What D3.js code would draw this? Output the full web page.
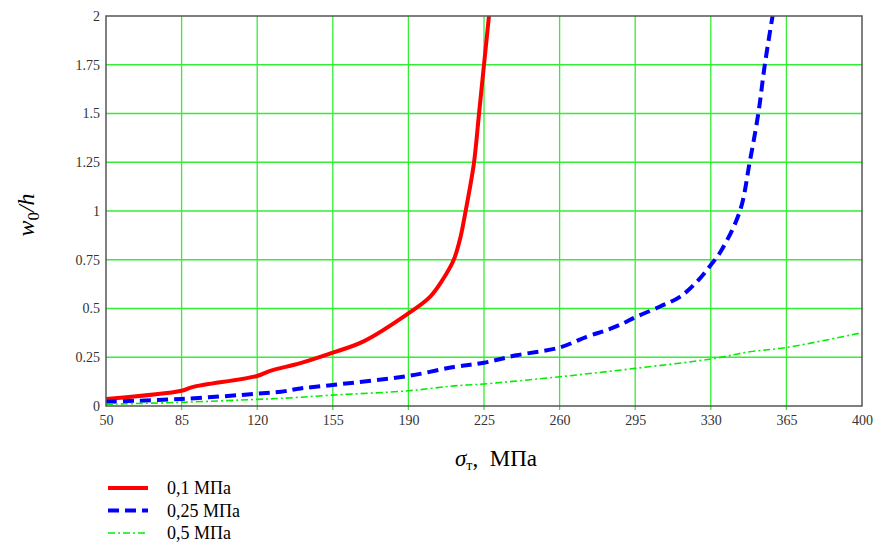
<!DOCTYPE html>
<html>
<head>
<meta charset="utf-8">
<script src="https://cdn.jsdelivr.net/npm/d3@7"></script>
<style>
  body { margin: 0; background: #fff; }
  svg text { font-family: "Times New Roman", "Liberation Serif", "DejaVu Serif", serif; }
</style>
</head>
<body>
<div id="chart"></div>
<script>
// series values (sigma_T, w0/h)
const redX   = [50, 85, 90, 120, 126, 140, 154, 169, 190, 200, 206, 211, 214, 216, 218, 220.4, 222.7, 225, 227.3];
const redY   = [0.036, 0.078, 0.097, 0.154, 0.18, 0.22, 0.27, 0.33, 0.475, 0.56, 0.65, 0.75, 0.86, 0.97, 1.09, 1.25, 1.5, 1.75, 2.0];
const blueX  = [50, 85, 120, 131, 140, 155, 190, 211, 225, 240, 260, 272.5, 282, 289.5, 295, 306.5, 315.7, 323.5, 330, 335, 343.5, 348, 352, 355, 358.6];
const blueY  = [0.022, 0.036, 0.063, 0.073, 0.09, 0.108, 0.154, 0.2, 0.222, 0.26, 0.30, 0.355, 0.39, 0.424, 0.455, 0.51, 0.56, 0.637, 0.723, 0.8, 1.0, 1.25, 1.5, 1.75, 2.0];
const greenX = [50, 85, 120, 131, 155, 190, 211, 225, 260, 295, 330, 348, 365, 400];
const greenY = [0.009, 0.019, 0.034, 0.039, 0.056, 0.078, 0.103, 0.113, 0.15, 0.193, 0.241, 0.278, 0.30, 0.376];

const xTicks = [50, 85, 120, 155, 190, 225, 260, 295, 330, 365, 400];
const yTicks = [0, 0.25, 0.5, 0.75, 1, 1.25, 1.5, 1.75, 2];
const legendLabels = ["0,1 МПа", "0,25 МПа", "0,5 МПа"];

const series = [
  { xs: redX, ys: redY, color: "#ff0000", width: 4, dash: null },
  { xs: blueX, ys: blueY, color: "#0000ff", width: 4, dash: "11,6" },
  { xs: greenX, ys: greenY, color: "#00ee00", width: 1.6, dash: "7,3,2,3" }
];

const FONT = '"Times New Roman", "Liberation Serif", "DejaVu Serif", serif';

// SVG CONVENTIONS
const W = 877, H = 545;
const margin = { top: 16, right: 15, bottom: 139, left: 106 };
const width = W - margin.left - margin.right,
    height = H - margin.top - margin.bottom;

const svg = d3.select("#chart").append("svg")
    .attr("width", W)
    .attr("height", H)
    .attr("font-family", FONT);

const g = svg.append("g")
    .attr("transform", "translate(" + margin.left + "," + margin.top + ")");

const x = d3.scaleLinear().domain([50, 400]).range([0, width]);
const y = d3.scaleLinear().domain([0, 2]).range([height, 0]);

// grid
g.append("g")
    .selectAll("line")
    .data(xTicks.slice(1, -1))
    .join("line")
    .attr("x1", d => x(d)).attr("x2", d => x(d))
    .attr("y1", 0).attr("y2", height + 4)
    .attr("stroke", "#33ee33")
    .attr("stroke-width", 1.3);

g.append("g")
    .selectAll("line")
    .data(yTicks.slice(1, -1))
    .join("line")
    .attr("x1", 0).attr("x2", width)
    .attr("y1", d => y(d)).attr("y2", d => y(d))
    .attr("stroke", "#33ee33")
    .attr("stroke-width", 1.3);

// curves
g.append("clipPath").attr("id", "clip")
    .append("rect").attr("width", width).attr("height", height);

const line = d3.line()
    .curve(d3.curveCatmullRom.alpha(0.5))
    .x(d => x(d[0]))
    .y(d => y(d[1]));

series.forEach(function (s) {
    const pts = s.xs.map((v, i) => [v, s.ys[i]]);
    g.append("path")
        .datum(pts)
        .attr("clip-path", "url(#clip)")
        .attr("fill", "none")
        .attr("stroke", s.color)
        .attr("stroke-width", s.width)
        .attr("stroke-dasharray", s.dash)
        .attr("d", line);
});

// frame
g.append("rect")
    .attr("width", width).attr("height", height)
    .attr("fill", "none")
    .attr("stroke", "#555")
    .attr("stroke-width", 1.5);

// tick labels
const xAxis = d3.axisBottom(x).tickValues(xTicks).tickSize(0).tickPadding(9).tickFormat(d3.format("d"));
g.append("g")
    .attr("transform", "translate(0," + height + ")")
    .call(xAxis)
    .attr("font-family", FONT)
    .call(a => a.select(".domain").remove())
    .selectAll("text")
    .attr("font-size", 14)
    .attr("fill", "#333");

const yAxis = d3.axisLeft(y).tickValues(yTicks).tickSize(0).tickPadding(6).tickFormat(d => String(d));
g.append("g")
    .call(yAxis)
    .attr("font-family", FONT)
    .call(a => a.select(".domain").remove())
    .selectAll("text")
    .attr("font-size", 14)
    .attr("fill", "#333");

// axis titles
const xt = svg.append("text")
    .attr("x", 455)
    .attr("y", 466)
    .attr("font-size", 23)
    .attr("fill", "#000");
xt.append("tspan").attr("font-style", "italic").text("σ");
xt.append("tspan").attr("font-size", 14).attr("dy", 4).text("т");
xt.append("tspan").attr("dy", -4).text(",\u00a0\u00a0МПа");

const yt = svg.append("text")
    .attr("transform", "translate(34,215) rotate(-90)")
    .attr("text-anchor", "middle")
    .attr("font-size", 24)
    .attr("font-style", "italic")
    .attr("fill", "#000");
yt.append("tspan").text("w");
yt.append("tspan").attr("font-size", 17).attr("dy", 5).attr("font-style", "normal").text("0");
yt.append("tspan").attr("dy", -5).text("/h");

// legend
const leg = svg.append("g");
series.forEach(function (s, i) {
    const ly = 488 + i * 22.5;
    leg.append("line")
        .attr("x1", 108).attr("x2", 148)
        .attr("y1", ly).attr("y2", ly)
        .attr("stroke", s.color)
        .attr("stroke-width", s.width)
        .attr("stroke-dasharray", s.dash);
    leg.append("text")
        .attr("x", 167).attr("y", ly + 6)
        .attr("font-size", 18)
        .attr("fill", "#000")
        .text(legendLabels[i]);
});
</script>
</body>
</html>
